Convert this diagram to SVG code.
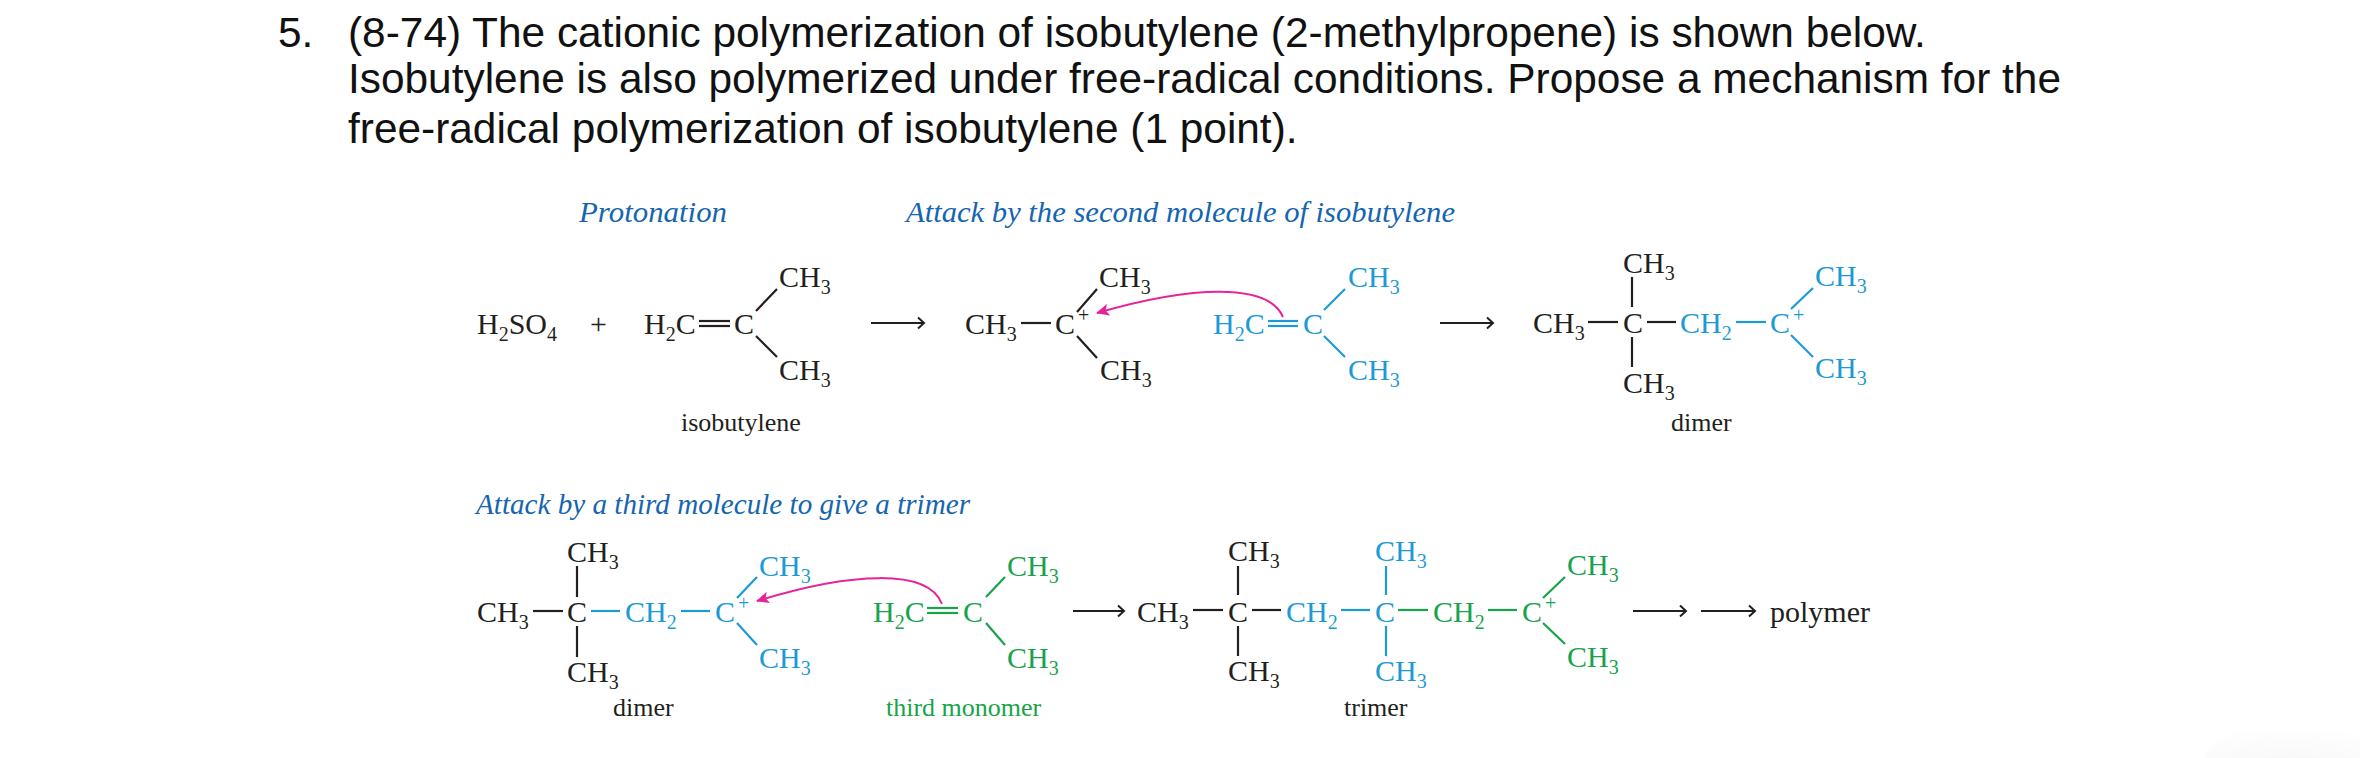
<svg xmlns="http://www.w3.org/2000/svg" width="2360" height="758" viewBox="0 0 2360 758">
<style>
text{font-family:"Liberation Serif","Times New Roman",serif;font-size:30px;fill:#231f20}
.q{font-family:"Liberation Sans",Arial,sans-serif;font-size:42.4px;fill:#111}
.h{font-style:italic;fill:#1565b0}
.n{font-size:26px}
.b{fill:#1c9ad6}.g{fill:#17a34a}
.s{font-size:20px}
line{stroke:#231f20;stroke-width:2.2;fill:none}
line.lb{stroke:#1c9ad6}line.lg{stroke:#17a34a}
.ar{marker-end:url(#ah)}
.pink{stroke:#e6249a;stroke-width:2;fill:none;marker-end:url(#ph)}
</style>
<defs>
<marker id="ah" markerUnits="userSpaceOnUse" markerWidth="14" markerHeight="14" refX="12" refY="7" orient="auto"><path d="M6 1.5L12 7L6 12.5" fill="none" stroke="#231f20" stroke-width="2"/></marker>
<marker id="ph" markerUnits="userSpaceOnUse" markerWidth="14" markerHeight="12" refX="12" refY="6" orient="auto"><path d="M0 0L13 6L0 12L3 6Z" fill="#e6249a"/></marker>
<radialGradient id="sh" cx="0.5" cy="1" r="1"><stop offset="0" stop-color="#f3f3f3"/><stop offset="1" stop-color="#fff"/></radialGradient>
</defs>
<rect width="2360" height="758" fill="#fff"/>
<ellipse cx="2290" cy="758" rx="85" ry="34" fill="url(#sh)"/>
<g id="question">
<text class="q" x="278" y="47">5.</text>
<text class="q" x="348" y="47">(8-74) The cationic polymerization of isobutylene (2-methylpropene) is shown below.</text>
<text class="q" x="348" y="93">Isobutylene is also polymerized under free-radical conditions. Propose a mechanism for the</text>
<text class="q" x="348" y="143">free-radical polymerization of isobutylene (1 point).</text>
</g>
<g id="headings">
<text class="h" x="579" y="222" textLength="148" lengthAdjust="spacingAndGlyphs">Protonation</text>
<text class="h" x="906" y="222" textLength="549" lengthAdjust="spacingAndGlyphs">Attack by the second molecule of isobutylene</text>
<text class="h" x="476" y="514" textLength="494" lengthAdjust="spacingAndGlyphs">Attack by a third molecule to give a trimer</text>
</g>
<g id="connectors">
<line class="ar" x1="871" y1="323" x2="924" y2="323"/>
<line class="ar" x1="1440" y1="323" x2="1493" y2="323"/>
<line class="ar" x1="1073" y1="611" x2="1124" y2="611"/>
<line class="ar" x1="1633" y1="611" x2="1686" y2="611"/>
<line class="ar" x1="1701" y1="611" x2="1755" y2="611"/>
<path class="pink" d="M1283 317C1268 282 1190 286 1097 313"/>
<path class="pink" d="M942 604C928 568 850 572 757 601"/>
</g>
<g id="sulfuric"><text x="477" y="334">H<tspan class="s" dy="7">2</tspan><tspan dy="-7">SO</tspan><tspan class="s" dy="7">4</tspan></text><text x="590" y="334">+</text></g>
<g id="isobutylene">
<text x="644" y="334">H<tspan class="s" dy="7">2</tspan><tspan dy="-7">C</tspan></text>
<line x1="699" y1="321" x2="730" y2="321"/><line x1="699" y1="326" x2="730" y2="326"/>
<text x="734" y="334">C</text>
<line x1="756" y1="311" x2="777" y2="289"/><line x1="756" y1="336" x2="777" y2="357"/>
<text x="779" y="287">CH<tspan class="s" dy="7">3</tspan></text>
<text x="779" y="380">CH<tspan class="s" dy="7">3</tspan></text>
<text class="n" x="681" y="431">isobutylene</text>
</g>
<g id="cation">
<text x="965" y="334">CH<tspan class="s" dy="7">3</tspan></text>
<line x1="1021" y1="323" x2="1051" y2="323"/>
<text x="1055" y="334">C</text><text class="s" x="1078" y="322">+</text>
<line x1="1077" y1="312" x2="1097" y2="289"/><line x1="1077" y1="336" x2="1097" y2="358"/>
<text x="1099" y="287">CH<tspan class="s" dy="7">3</tspan></text>
<text x="1100" y="380">CH<tspan class="s" dy="7">3</tspan></text>
</g>
<g id="monomer2">
<text class="b" x="1213" y="334">H<tspan class="s" dy="7">2</tspan><tspan dy="-7">C</tspan></text>
<line class="lb" x1="1268" y1="321" x2="1298" y2="321"/><line class="lb" x1="1268" y1="326" x2="1298" y2="326"/>
<text class="b" x="1303" y="334">C</text>
<line class="lb" x1="1324" y1="310" x2="1345" y2="289"/><line class="lb" x1="1324" y1="336" x2="1345" y2="357"/>
<text class="b" x="1348" y="287">CH<tspan class="s" dy="7">3</tspan></text>
<text class="b" x="1348" y="380">CH<tspan class="s" dy="7">3</tspan></text>
</g>
<g id="dimer1">
<text x="1533" y="333">CH<tspan class="s" dy="7">3</tspan></text>
<line x1="1588" y1="322" x2="1618" y2="322"/>
<text x="1623" y="273">CH<tspan class="s" dy="7">3</tspan></text>
<line x1="1632" y1="277" x2="1632" y2="307"/><line x1="1632" y1="337" x2="1632" y2="367"/>
<text x="1623" y="333">C</text>
<text x="1623" y="393">CH<tspan class="s" dy="7">3</tspan></text>
<line x1="1647" y1="322" x2="1676" y2="322"/>
<text class="b" x="1680" y="333">CH<tspan class="s" dy="7">2</tspan></text>
<line class="lb" x1="1736" y1="322" x2="1766" y2="322"/>
<text class="b" x="1770" y="333">C</text><text class="b s" x="1793" y="322">+</text>
<line class="lb" x1="1791" y1="309" x2="1813" y2="288"/><line class="lb" x1="1791" y1="335" x2="1813" y2="357"/>
<text class="b" x="1815" y="286">CH<tspan class="s" dy="7">3</tspan></text>
<text class="b" x="1815" y="378">CH<tspan class="s" dy="7">3</tspan></text>
<text class="n" x="1671" y="431">dimer</text>
</g>
<g id="dimer2">
<text x="477" y="622">CH<tspan class="s" dy="7">3</tspan></text>
<line x1="533" y1="611" x2="563" y2="611"/>
<text x="567" y="562">CH<tspan class="s" dy="7">3</tspan></text>
<line x1="577" y1="566" x2="577" y2="597"/><line x1="577" y1="626" x2="577" y2="657"/>
<text x="567" y="622">C</text>
<text x="567" y="682">CH<tspan class="s" dy="7">3</tspan></text>
<line class="lb" x1="591" y1="611" x2="620" y2="611"/>
<text class="b" x="625" y="622">CH<tspan class="s" dy="7">2</tspan></text>
<line class="lb" x1="681" y1="611" x2="710" y2="611"/>
<text class="b" x="715" y="622">C</text><text class="b s" x="738" y="610">+</text>
<line class="lb" x1="737" y1="598" x2="757" y2="577"/><line class="lb" x1="737" y1="623" x2="757" y2="645"/>
<text class="b" x="759" y="576">CH<tspan class="s" dy="7">3</tspan></text>
<text class="b" x="759" y="668">CH<tspan class="s" dy="7">3</tspan></text>
<text class="n" x="613" y="716">dimer</text>
</g>
<g id="monomer3">
<text class="g" x="873" y="622">H<tspan class="s" dy="7">2</tspan><tspan dy="-7">C</tspan></text>
<line class="lg" x1="927" y1="608" x2="958" y2="608"/><line class="lg" x1="927" y1="613" x2="958" y2="613"/>
<text class="g" x="963" y="622">C</text>
<line class="lg" x1="986" y1="597" x2="1005" y2="577"/><line class="lg" x1="986" y1="623" x2="1005" y2="645"/>
<text class="g" x="1007" y="576">CH<tspan class="s" dy="7">3</tspan></text>
<text class="g" x="1007" y="668">CH<tspan class="s" dy="7">3</tspan></text>
<text class="n g" x="886" y="716">third monomer</text>
</g>
<g id="trimer">
<text x="1137" y="622">CH<tspan class="s" dy="7">3</tspan></text>
<line x1="1193" y1="610" x2="1223" y2="610"/>
<text x="1228" y="561">CH<tspan class="s" dy="7">3</tspan></text>
<line x1="1238" y1="566" x2="1238" y2="595"/><line x1="1238" y1="626" x2="1238" y2="656"/>
<text x="1228" y="622">C</text>
<text x="1228" y="681">CH<tspan class="s" dy="7">3</tspan></text>
<line x1="1252" y1="610" x2="1281" y2="610"/>
<text class="b" x="1286" y="622">CH<tspan class="s" dy="7">2</tspan></text>
<line class="lb" x1="1341" y1="610" x2="1370" y2="610"/>
<text class="b" x="1375" y="561">CH<tspan class="s" dy="7">3</tspan></text>
<line class="lb" x1="1386" y1="566" x2="1386" y2="595"/><line class="lb" x1="1386" y1="626" x2="1386" y2="656"/>
<text class="b" x="1375" y="622">C</text>
<text class="b" x="1375" y="681">CH<tspan class="s" dy="7">3</tspan></text>
<line class="lg" x1="1398" y1="610" x2="1428" y2="610"/>
<text class="g" x="1433" y="622">CH<tspan class="s" dy="7">2</tspan></text>
<line class="lg" x1="1488" y1="610" x2="1517" y2="610"/>
<text class="g" x="1522" y="622">C</text><text class="g s" x="1545" y="610">+</text>
<line class="lg" x1="1543" y1="598" x2="1565" y2="577"/><line class="lg" x1="1543" y1="623" x2="1565" y2="644"/>
<text class="g" x="1567" y="575">CH<tspan class="s" dy="7">3</tspan></text>
<text class="g" x="1567" y="667">CH<tspan class="s" dy="7">3</tspan></text>
<text class="n" x="1344" y="716">trimer</text>
</g>
<g id="polymer"><text x="1770" y="622">polymer</text></g>
</svg>
